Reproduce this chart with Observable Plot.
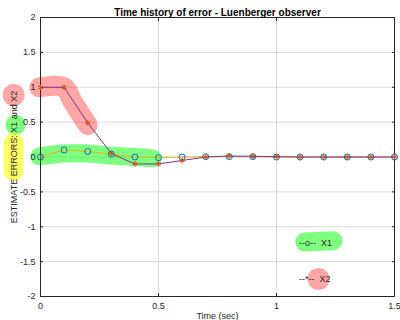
<!DOCTYPE html>
<html>
<head>
<meta charset="utf-8">
<script src="https://cdn.jsdelivr.net/npm/d3@7"></script>
<script src="https://cdn.jsdelivr.net/npm/@observablehq/plot@0.6"></script>
<style>
  html, body { margin: 0; padding: 0; background: #fff; }
  #chart svg { display: block; }
</style>
</head>
<body>
<div id="chart"></div>
<script>
// ---- data ----
const time = [0, 0.1, 0.2, 0.3, 0.4, 0.5, 0.6, 0.7, 0.8, 0.9, 1.0, 1.1, 1.2, 1.3, 1.4, 1.5];
const x1Err = [0, 0.1, 0.08, 0.04, 0, -0.01, 0, 0.005, 0.005, 0.005, 0, 0, 0, 0, 0, 0];
const x2Err = [1, 1, 0.49, 0.05, -0.1, -0.1, -0.05, 0, 0.015, 0.01, 0.005, 0, 0, 0, 0, 0];
const xTicks = [0, 0.5, 1, 1.5];
const yTicks = [-2, -1.5, -1, -0.5, 0, 0.5, 1, 1.5, 2];
const titleText = "Time history of error - Luenberger observer";
const xLabel = "Time (sec)";
const yLabel = "ESTIMATE ERRORS: X1 and X2";
// legend entries (text legend placed in data space)
const legendNames = ["X1", "X2"];
const legendSymbols = ["--o--", "--*--"];
const legendT = [1.095, 1.095];
const legendV = [-1.235, -1.755];
// hand-drawn highlight annotations (data space)
const redPathT = [-0.005, 0.1, 0.135, 0.2];
const redPathV = [1.0, 1.0, 0.8, 0.46];
const greenPathT = [-0.005, 0.1, 0.2, 0.3, 0.4, 0.475];
const greenPathV = [0.01, 0.05, 0.05, 0.02, 0.0, -0.02];
const labelMarkT = [-0.114, -0.106];
const labelMarkV = [0.89, 0.46];
const yellowT = [-0.114, -0.114];
const yellowV = [0.2, -0.2];
const legendGreenT = [1.12, 1.24];
const legendGreenV = [-1.22, -1.2];
const legendRedT = [1.178];
const legendRedV = [-1.75];

const x1 = time.map((t, i) => ({t, v: x1Err[i]}));
const x2 = time.map((t, i) => ({t, v: x2Err[i]}));
const pts = (T, V) => T.map((t, i) => ({t, v: V[i]}));
const legend = legendNames.map((n, i) => ({t: legendT[i], v: legendV[i], text: legendSymbols[i] + "  " + n}));

const fmt = d => String(d);
const axisColor = "#262626";

const chart = Plot.plot({
  width: 400,
  height: 320,
  marginLeft: 40,
  marginRight: 6,
  marginTop: 17,
  marginBottom: 24,
  style: {fontFamily: "'Liberation Sans', Arial, sans-serif", fontSize: "9px", color: axisColor, background: "#fff"},
  x: {domain: [0, 1.5]},
  y: {domain: [-2, 2]},
  marks: [
    Plot.gridX(xTicks, {stroke: "#d9d9d9", strokeOpacity: 1}),
    Plot.gridY(yTicks, {stroke: "#d9d9d9", strokeOpacity: 1}),
    // highlights
    Plot.line(pts(redPathT, redPathV), {x: "t", y: "v", stroke: "rgba(255,0,0,0.35)", strokeWidth: 20, strokeLinecap: "round", strokeLinejoin: "round", curve: "catmull-rom", clip: false}),
    Plot.line(pts(greenPathT, greenPathV), {x: "t", y: "v", stroke: "rgba(0,255,0,0.5)", strokeWidth: 18, strokeLinecap: "round", strokeLinejoin: "round", curve: "catmull-rom", clip: false}),
    Plot.dot(pts(labelMarkT.slice(0, 1), labelMarkV.slice(0, 1)), {x: "t", y: "v", r: 11, fill: "rgba(255,0,0,0.35)", clip: false}),
    Plot.dot(pts(labelMarkT.slice(1), labelMarkV.slice(1)), {x: "t", y: "v", r: 10, fill: "rgba(0,255,0,0.5)", clip: false}),
    Plot.line(pts(yellowT, yellowV), {x: "t", y: "v", stroke: "rgba(255,255,0,0.6)", strokeWidth: 20, strokeLinecap: "round", clip: false}),
    Plot.line(pts(legendGreenT, legendGreenV), {x: "t", y: "v", stroke: "rgba(0,255,0,0.5)", strokeWidth: 19, strokeLinecap: "round", clip: false}),
    Plot.dot(pts(legendRedT, legendRedV), {x: "t", y: "v", r: 11, fill: "rgba(255,0,0,0.35)", clip: false}),
    // axes
    Plot.frame({stroke: axisColor}),
    Plot.axisX(xTicks, {tickSize: -3, tickFormat: fmt, tickPadding: 9, label: xLabel, labelAnchor: "center", labelArrow: "none", labelOffset: 22}),
    Plot.axisX(xTicks, {anchor: "top", tickSize: -3, tickFormat: () => "", label: null}),
    Plot.axisY(yTicks, {tickSize: -3, tickFormat: fmt, tickPadding: 8, label: yLabel, labelAnchor: "center", labelArrow: "none", labelOffset: 30, fontSize: 9}),
    Plot.axisY(yTicks, {anchor: "right", tickSize: -3, tickFormat: () => "", label: null}),
    // data
    Plot.line(x1, {x: "t", y: "v", stroke: "#EDB120", strokeWidth: 1}),
    Plot.line(x2, {x: "t", y: "v", stroke: "#7E2F8E", strokeWidth: 1}),
    Plot.dot(x1, {x: "t", y: "v", r: 3, stroke: "#0072BD", strokeWidth: 1, fill: "none"}),
    Plot.dot(x2, {x: "t", y: "v", symbol: "asterisk", r: 2.5, stroke: "#D95319", strokeWidth: 1.2}),
    // legend text
    Plot.text(legend, {x: "t", y: "v", text: "text", textAnchor: "start", fill: axisColor, fontSize: 9}),
    // title
    Plot.text([titleText], {frameAnchor: "top", dy: -9, fontWeight: "bold", fontSize: 10, fill: "#000"})
  ]
});
document.getElementById("chart").appendChild(chart);
</script>
</body>
</html>
